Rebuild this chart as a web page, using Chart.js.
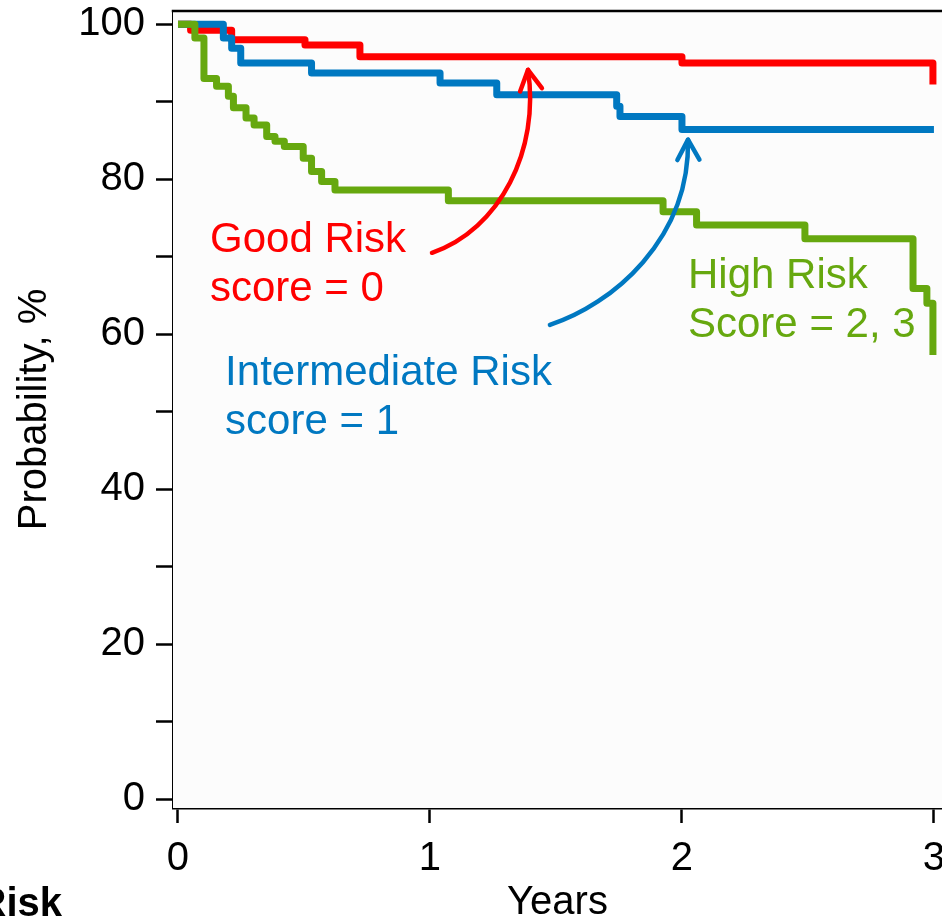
<!DOCTYPE html>
<html>
<head>
<meta charset="utf-8">
<script src="https://cdn.jsdelivr.net/npm/chart.js@4.4.1/dist/chart.umd.min.js"></script>
<style>
  html, body { margin: 0; padding: 0; background: #ffffff; overflow: hidden; }
  #wrap { width: 942px; height: 923px; position: relative; }
</style>
</head>
<body>
<div id="wrap"><canvas id="km" width="942" height="923"></canvas></div>
<script>
// Axis ticks
const yearTicks = [0, 1, 2, 3];
const probTicks = [0, 10, 20, 30, 40, 50, 60, 70, 80, 90, 100];
const probTickLabels = ['0', '', '20', '', '40', '', '60', '', '80', '', '100'];

// Kaplan-Meier estimates: event times (years) and survival probability (%)
const goodTimes = [0, 0.05, 0.213, 0.504, 0.722, 2.0, 2.996];
const goodProb  = [100, 99.2, 98.0, 97.3, 95.8, 95.0, 92.2];

const midTimes = [0, 0.18, 0.213, 0.249, 0.53, 1.04, 1.265, 1.741, 1.754, 2.0, 3.0];
const midProb  = [100, 98.2, 96.9, 95.0, 93.7, 92.4, 90.9, 89.4, 88.1, 86.4, 86.4];

const highTimes = [0, 0.067, 0.103, 0.153, 0.200, 0.220, 0.270, 0.302, 0.352, 0.385, 0.422,
                   0.497, 0.530, 0.570, 0.623, 1.073, 1.925, 2.058, 2.488, 2.917, 2.972, 2.996];
const highProb  = [100, 98.2, 93.0, 92.0, 90.7, 89.2, 87.9, 87.0, 85.5, 84.9, 84.2,
                   82.7, 81.0, 79.7, 78.6, 77.2, 75.8, 74.1, 72.3, 65.9, 64.0, 57.3];

const RED = '#ff0000';
const BLUE = '#0078c1';
const GREEN = '#66a80f';
const FONT = "'Liberation Sans', Arial, Helvetica, sans-serif";

function toPoints(times, probs) {
  return times.map((t, i) => ({ x: t, y: probs[i] }));
}

// Group labels (anchor = left end of first baseline, in axis units)
const groupNotes = [
  { lines: ['Good Risk', 'score = 0'], color: RED, x: 0.127, y: 70.6 },
  { lines: ['Intermediate Risk', 'score = 1'], color: BLUE, x: 0.187, y: 53.5 },
  { lines: ['High Risk', 'Score = 2, 3'], color: GREEN, x: 2.024, y: 65.9 }
];

// Curved pointers from each label to its curve (cubic Bezier, axis units)
const pointers = [
  { color: RED,  pts: [[1.008, 70.5], [1.278, 73.5], [1.437, 83.8], [1.389, 94.1]] },
  { color: BLUE, pts: [[1.476, 61.2], [1.722, 63.8], [2.032, 72.2], [2.024, 85.1]] }
];

const framePlugin = {
  id: 'frame',
  beforeDatasetsDraw(chart) {
    const { ctx, chartArea: a } = chart;
    ctx.save();
    ctx.fillStyle = '#fcfcfc';
    ctx.fillRect(a.left, a.top, chart.width - a.left, a.bottom - a.top);
    ctx.restore();
  },
  afterDraw(chart) {
    const { ctx, chartArea: a, scales } = chart;
    const sx = scales.x, sy = scales.y;
    ctx.save();
    // top edge of the plot box
    ctx.strokeStyle = '#000';
    ctx.lineWidth = 2.5;
    ctx.beginPath();
    ctx.moveTo(a.left - 1.25, a.top);
    ctx.lineTo(chart.width, a.top);
    ctx.stroke();

    // pointers
    pointers.forEach(p => {
      const q = p.pts.map(([x, y]) => [sx.getPixelForValue(x), sy.getPixelForValue(y)]);
      ctx.strokeStyle = p.color;
      ctx.lineWidth = 4.5;
      ctx.lineCap = 'round';
      ctx.lineJoin = 'round';
      ctx.beginPath();
      ctx.moveTo(q[0][0], q[0][1]);
      ctx.bezierCurveTo(q[1][0], q[1][1], q[2][0], q[2][1], q[3][0], q[3][1]);
      ctx.stroke();
      // open arrow head along the end tangent
      const dx = q[2][0] - q[3][0], dy = q[2][1] - q[3][1];
      const ang = Math.atan2(dy, dx);
      const len = 23, spread = 0.5;
      ctx.beginPath();
      ctx.moveTo(q[3][0] + len * Math.cos(ang - spread), q[3][1] + len * Math.sin(ang - spread));
      ctx.lineTo(q[3][0], q[3][1]);
      ctx.lineTo(q[3][0] + len * Math.cos(ang + spread), q[3][1] + len * Math.sin(ang + spread));
      ctx.stroke();
    });

    // group labels
    ctx.font = '42px ' + FONT;
    ctx.textAlign = 'left';
    ctx.textBaseline = 'alphabetic';
    groupNotes.forEach(n => {
      const x = sx.getPixelForValue(n.x), y = sy.getPixelForValue(n.y);
      ctx.fillStyle = n.color;
      n.lines.forEach((s, i) => ctx.fillText(s, x, y + i * 49));
    });

    // number-at-risk table heading
    ctx.fillStyle = '#000';
    ctx.font = 'bold 40px ' + FONT;
    ctx.textAlign = 'right';
    ctx.fillText('Risk', 62, 916);
    ctx.restore();
  }
};

new Chart(document.getElementById('km'), {
  type: 'line',
  data: {
    datasets: [
      { label: 'High Risk', data: toPoints(highTimes, highProb), borderColor: GREEN },
      { label: 'Intermediate Risk', data: toPoints(midTimes, midProb), borderColor: BLUE },
      { label: 'Good Risk', data: toPoints(goodTimes, goodProb), borderColor: RED }
    ].map(d => Object.assign(d, {
      stepped: true, borderWidth: 7, pointRadius: 0, fill: false,
      borderJoinStyle: 'round', borderCapStyle: 'butt'
    }))
  },
  options: {
    responsive: false,
    devicePixelRatio: 1,
    animation: false,
    layout: { autoPadding: false, padding: { top: 11, left: 0, right: 0, bottom: 0 } },
    plugins: { legend: { display: false }, tooltip: { enabled: false } },
    scales: {
      x: {
        type: 'linear',
        min: -0.0198,
        max: 3.032,
        afterBuildTicks: s => { s.ticks = yearTicks.map(v => ({ value: v })); },
        afterFit: s => { s.height = 115; s.paddingLeft = 0; s.paddingRight = 0; },
        ticks: { color: '#000', font: { family: FONT, size: 40 }, padding: 12, maxRotation: 0, autoSkip: false },
        grid: { drawOnChartArea: false, color: '#000', tickLength: 15, tickWidth: 2.5 },
        border: { color: '#000', width: 2.5 },
        title: { display: true, text: 'Years', color: '#000', font: { family: FONT, size: 40, lineHeight: 1 }, padding: { top: 0, bottom: 0 } }
      },
      y: {
        type: 'linear',
        min: -1.15,
        max: 101.7,
        afterBuildTicks: s => { s.ticks = probTicks.map(v => ({ value: v })); },
        afterFit: s => { s.width = 173; s.paddingTop = 0; s.paddingBottom = 0; },
        ticks: {
          color: '#000', font: { family: FONT, size: 40 }, padding: 11, autoSkip: false,
          callback: (v) => probTickLabels[probTicks.indexOf(v)]
        },
        grid: { drawOnChartArea: false, color: '#000', tickLength: 17, tickWidth: 2.5 },
        border: { color: '#000', width: 2.5 },
        title: { display: true, text: 'Probability, %', color: '#000', font: { family: FONT, size: 40, lineHeight: 1 }, padding: { top: 15, bottom: 0 } }
      }
    }
  },
  plugins: [framePlugin]
});
</script>
</body>
</html>
